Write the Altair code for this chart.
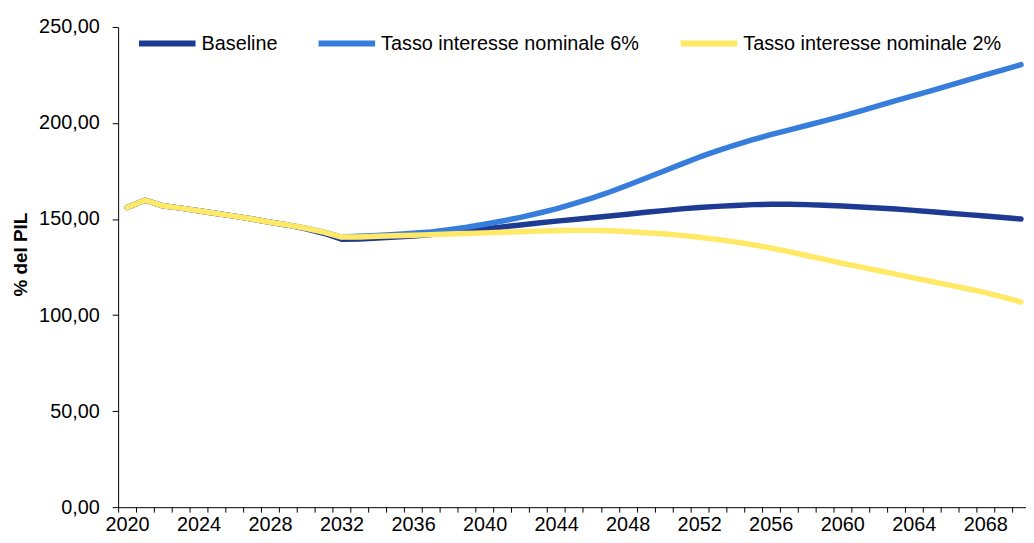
import altair as alt
import pandas as pd

years = list(range(2020, 2071))

baseline = [156.0, 159.8, 156.9, 155.7, 154.3, 152.9, 151.5, 150.0, 148.3, 146.8,
            144.9, 142.6, 139.5, 139.6, 140.1, 140.6, 141.2, 142.0, 142.9, 143.9,
            144.9, 145.9, 146.9, 147.9, 148.9, 149.8, 150.7, 151.6, 152.5, 153.5,
            154.4, 155.3, 156.0, 156.6, 157.1, 157.5, 157.7, 157.7, 157.5, 157.2,
            156.8, 156.3, 155.8, 155.2, 154.5, 153.8, 153.0, 152.3, 151.6, 150.8,
            150.0]

tasso6 = [156.0, 159.8, 156.9, 155.7, 154.3, 152.9, 151.5, 150.0, 148.3, 146.9,
          145.2, 143.2, 140.6, 141.0, 141.5, 142.0, 142.6, 143.3, 144.4, 145.7,
          147.3, 149.0, 150.9, 153.0, 155.3, 158.0, 160.9, 164.1, 167.6, 171.2,
          174.9, 178.6, 182.2, 185.5, 188.5, 191.3, 193.9, 196.3, 198.7, 201.1,
          203.6, 206.2, 208.9, 211.6, 214.2, 216.9, 219.6, 222.3, 225.0, 227.7,
          230.4]

tasso2 = [156.0, 159.8, 156.9, 155.7, 154.3, 152.9, 151.5, 150.0, 148.3, 146.9,
          145.2, 143.2, 140.6, 140.7, 141.0, 141.3, 141.6, 141.9, 142.2, 142.5,
          142.8, 143.1, 143.4, 143.7, 143.9, 144.1, 144.1, 143.9, 143.5, 142.9,
          142.3, 141.5, 140.5, 139.4, 138.1, 136.6, 134.9, 133.0, 131.0, 129.0,
          127.0, 125.1, 123.2, 121.3, 119.4, 117.5, 115.6, 113.7, 111.7, 109.4,
          106.8]

series_names = ["Baseline", "Tasso interesse nominale 6%", "Tasso interesse nominale 2%"]
series_colors = ["#1f3a93", "#377ddb", "#ffe966"]
y_ticks = [0, 50, 100, 150, 200, 250]
x_label_step = 4

rows = []
for name, vals in zip(series_names, [baseline, tasso6, tasso2]):
    for yr, v in zip(years, vals):
        rows.append({"anno": yr, "valore": v, "serie": name})
df = pd.DataFrame(rows)

tick_bounds = [y - 0.5 for y in years]

FONT = "Liberation Sans"

x_enc = alt.X(
    "anno:Q",
    scale=alt.Scale(domain=[2019.5, 2070.28], nice=False, zero=False),
    axis=alt.Axis(
        values=tick_bounds,
        labelExpr=f"(datum.value + 0.5) % {x_label_step} == 0 ? toString(datum.value + 0.5) : ''",
        labelOffset=9,
        labelFlush=False,
        labelOverlap=False,
        labelBound=False,
        tickSize=5,
        labelPadding=3,
        title=None,
        grid=False,
    ),
)

y_enc = alt.Y(
    "valore:Q",
    scale=alt.Scale(domain=[0, 250], nice=False),
    axis=alt.Axis(
        values=y_ticks,
        labelExpr="replace(format(datum.value, '.2f'), '.', ',')",
        tickSize=6,
        labelPadding=13,
        grid=False,
        title="% del PIL",
        titleFont=FONT,
        titleFontSize=19,
        titleFontWeight="bold",
        titleColor="#000000",
        titleX=-92,
        titleY=229,
        titleAngle=270,
        titleAlign="center",
        titleBaseline="alphabetic",
    ),
)

color_enc = alt.Color(
    "serie:N",
    scale=alt.Scale(domain=series_names, range=series_colors),
    sort=series_names,
    legend=alt.Legend(
        title=None,
        orient="none",
        direction="horizontal",
        legendX=18,
        legendY=-15,
        symbolType="stroke",
        symbolSize=3249,
        symbolStrokeWidth=6,
        labelFont=FONT,
        labelFontSize=20,
        labelColor="#000000",
        labelOffset=3,
        columnPadding=29,
        labelLimit=400,
    ),
)

layers = []
for name in series_names:
    layers.append(
        alt.Chart(df)
        .transform_filter(alt.datum.serie == name)
        .mark_line(strokeWidth=5.5, strokeCap="round", strokeJoin="round")
        .encode(x=x_enc, y=y_enc, color=color_enc)
    )

chart = (
    alt.layer(*layers)
    .properties(
        width=915,
        height=484,
        autosize=alt.AutoSizeParams(type="none"),
        padding={"left": 111, "top": 17, "right": 0, "bottom": 34},
    )
    .configure_view(stroke=None)
    .configure_axis(
        labelFont=FONT,
        labelFontSize=20,
        labelColor="#000000",
        domainColor="#000000",
        tickColor="#000000",
        domainWidth=1,
        tickWidth=1,
    )
)

chart.save("out.html", embed_options={"renderer": "svg", "actions": False})
